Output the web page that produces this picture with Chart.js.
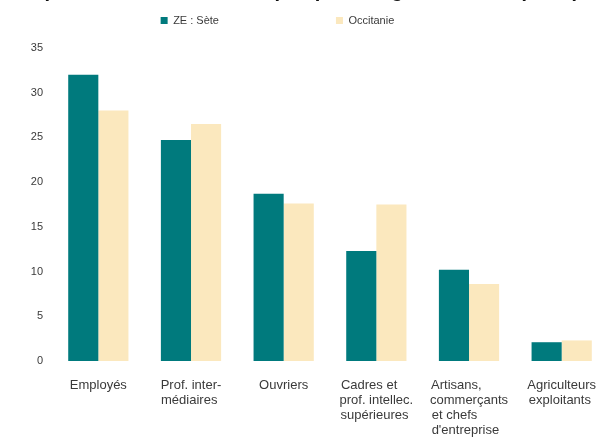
<!DOCTYPE html>
<html>
<head>
<meta charset="utf-8">
<script src="https://cdn.jsdelivr.net/npm/chart.js@4.4.1/dist/chart.umd.min.js"></script>
<style>
  html, body { margin: 0; padding: 0; background: #fff; overflow: hidden; }
  #wrap { position: relative; width: 613px; height: 455px; }
  #title {
    position: absolute; left: 19px; top: -20px; z-index: 2;
    font: bold 20px "Liberation Sans", Arial, sans-serif; line-height: 20px;
    white-space: nowrap; color: #111;
  }
</style>
</head>
<body>
<div id="wrap">
  <div id="title">Répartition des actifs occupés par catégorie sociale (en %)</div>
  <canvas id="chart"></canvas>
</div>
<script>
// categories (one array of lines per label)
const categories = [
  ['Employés'],
  ['Prof. inter-', 'médiaires'],
  ['Ouvriers'],
  ['Cadres et', 'prof. intellec.', 'supérieures'],
  ['Artisans,', 'commerçants', 'et chefs', "d'entreprise"],
  ['Agriculteurs', 'exploitants']
];
const seriesNames = ['ZE : Sète', 'Occitanie'];
const seteValues = [32.0, 24.7, 18.7, 12.3, 10.2, 2.1];
const occitanieValues = [28.0, 26.5, 17.6, 17.5, 8.6, 2.3];
const yTicks = [0, 5, 10, 15, 20, 25, 30, 35];

const FONT = '"Liberation Sans", Arial, sans-serif';
const TEXT = '#3a3a3a';
const X_SIZE = 13;
const measureCtx = document.createElement('canvas').getContext('2d');

// pad a string with trailing spaces up to a given pixel width
function padTo(text, size, width) {
  measureCtx.font = size + 'px ' + FONT;
  let s = text;
  while (measureCtx.measureText(s + ' ').width <= width) s += ' ';
  return s;
}

// lines are drawn centred by the library, so pad them to get a left aligned block
function leftAlign(lines, size) {
  measureCtx.font = size + 'px ' + FONT;
  const w = Math.max(...lines.map(l => measureCtx.measureText(l).width));
  return lines.map(l => padTo(l, size, w));
}

const ctx = document.getElementById('chart').getContext('2d');
new Chart(ctx, {
  type: 'bar',
  data: {
    labels: categories,
    datasets: [{
      label: seriesNames[0],
      data: seteValues,
      backgroundColor: '#007a7d',
      borderWidth: 0,
      categoryPercentage: 0.65,
      barPercentage: 1.0
    }, {
      label: seriesNames[1],
      data: occitanieValues,
      backgroundColor: '#fbe8be',
      borderWidth: 0,
      categoryPercentage: 0.65,
      barPercentage: 1.0
    }]
  },
  options: {
    responsive: true,
    maintainAspectRatio: false,
    animation: false,
    layout: { padding: { top: 5, left: 0, right: 0, bottom: 0 } },
    plugins: {
      tooltip: { enabled: false },
      // empty title used only as a spacer between the legend and the plot
      title: {
        display: true,
        text: ' ',
        font: { size: 10, lineHeight: 1.2 },
        padding: 0
      },
      legend: {
        position: 'top',
        weight: 3000,
        labels: {
          font: { family: FONT, size: 11 },
          color: TEXT,
          boxWidth: 7,
          boxHeight: 7,
          padding: 10,
          generateLabels: function(chart) {
            const items = Chart.defaults.plugins.legend.labels.generateLabels(chart);
            // widen the items so they sit where the original legend puts them
            items[0].text = padTo(items[0].text, 11, 155);
            items[1].text = padTo(items[1].text, 11, 104);
            return items;
          }
        }
      }
    },
    scales: {
      x: {
        grid: { display: false, drawTicks: false },
        border: { display: false },
        ticks: {
          font: { family: FONT, size: X_SIZE, lineHeight: 15 / X_SIZE },
          color: TEXT,
          padding: 17,
          maxRotation: 0,
          autoSkip: false,
          callback: function(value, index) {
            return leftAlign(categories[index], X_SIZE);
          }
        }
      },
      y: {
        min: 0,
        max: 35,
        grid: { display: false, drawTicks: false },
        border: { display: false },
        afterBuildTicks: function(scale) {
          scale.ticks = yTicks.map(v => ({ value: v }));
        },
        afterFit: function(scale) {
          scale.width = 52;
        },
        ticks: {
          font: { family: FONT, size: 11 },
          color: TEXT,
          padding: 9
        }
      }
    }
  }
});
</script>
</body>
</html>
